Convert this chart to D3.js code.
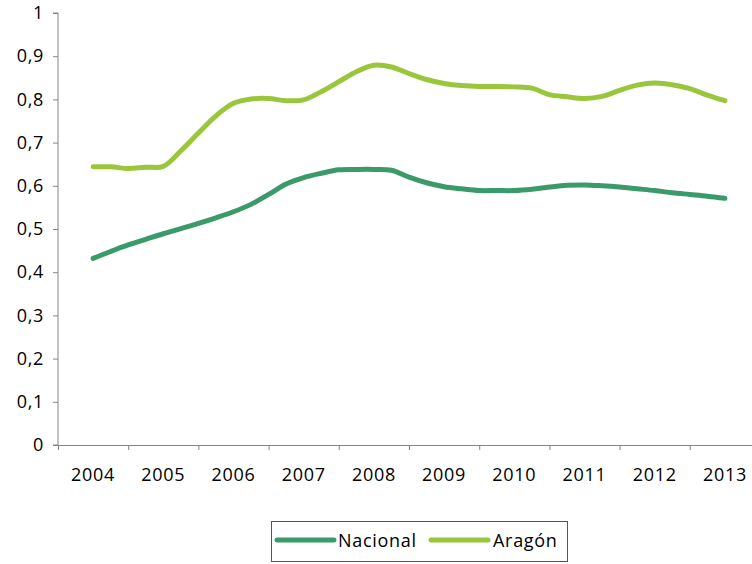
<!DOCTYPE html>
<html>
<head>
<meta charset="utf-8">
<script src="https://cdn.jsdelivr.net/npm/d3@7"></script>
<style>
  html, body { margin: 0; padding: 0; background: #fff; }
  svg { display: block; }
  text { font-family: "Open Sans", sans-serif; fill: #000; }
</style>
</head>
<body>
<svg id="chart" width="752" height="564"></svg>
<script>
// ---- data (quarterly, 2004 T1 .. 2013 T1) ----
const years = ["2004","2005","2006","2007","2008","2009","2010","2011","2012","2013"];
const yTicks = [0,0.1,0.2,0.3,0.4,0.5,0.6,0.7,0.8,0.9,1];
const seriesNames = ["Nacional","Aragón"];
const nacional = [
  0.432,0.448,0.463,0.476, 0.489,0.501,0.513,0.526,
  0.540,0.557,0.580,0.604, 0.619,0.629,0.637,0.638,
  0.638,0.636,0.620,0.607, 0.598,0.593,0.589,0.589,
  0.589,0.592,0.597,0.601, 0.602,0.600,0.597,0.593,
  0.589,0.584,0.580,0.576, 0.571
];
const aragon = [
  0.644,0.644,0.640,0.643, 0.645,0.681,0.722,0.762,
  0.791,0.801,0.802,0.797, 0.799,0.818,0.841,0.864,
  0.879,0.875,0.860,0.846, 0.837,0.832,0.830,0.830,
  0.829,0.826,0.811,0.806, 0.802,0.807,0.821,0.833,
  0.838,0.834,0.825,0.810, 0.797
];
const colors = ["#3b9a69","#9ac63b"];

(function () {
// ---- layout ----
const svg = d3.select("#chart");
const mLeft = 58, mRight = 760, mTop = 13, mBottom = 445;

const xBand = d3.scaleBand().domain(years).range([mLeft, mRight]).paddingInner(0).paddingOuter(0);
const xTime = d3.scaleLinear()
  .domain([+years[0] - 0.5, +years[years.length-1] + 0.5])
  .range([mLeft, mRight]);
const y = d3.scaleLinear().domain([0, 1]).range([mBottom, mTop]);

const fmt = d => String(+d.toFixed(1)).replace(".", ",");

// y axis
const yAxis = svg.append("g").attr("transform", `translate(${mLeft},0)`)
  .call(d3.axisLeft(y).tickValues(yTicks).tickFormat(fmt).tickSize(5).tickPadding(9));
yAxis.attr("font-family", null).attr("font-size", null);
yAxis.select(".domain").attr("stroke", "#868686").attr("d", `M-5,${mBottom}H0V${mTop}H-5`);
yAxis.selectAll(".tick line").attr("stroke", "#868686");
yAxis.selectAll(".tick text").style("font-size", "18px").style("letter-spacing", "0.7px");

// x axis: tick marks at band boundaries
const boundaries = years.map(yv => +yv - 0.5).concat([+years[years.length-1] + 0.5]);
const xTickAxis = svg.append("g").attr("transform", `translate(0,${mBottom})`)
  .call(d3.axisBottom(xTime).tickValues(boundaries).tickFormat("").tickSize(5).tickSizeOuter(0));
xTickAxis.select(".domain").attr("stroke", "#868686");
xTickAxis.selectAll(".tick line").attr("stroke", "#868686");

// x labels at band centres
const xLab = svg.append("g").attr("transform", `translate(0,${mBottom})`)
  .call(d3.axisBottom(xBand).tickSize(0).tickPadding(23));
xLab.attr("font-family", null).attr("font-size", null);
xLab.select(".domain").remove();
xLab.selectAll(".tick text").style("font-size", "18px").style("letter-spacing", "0.7px");

// lines
const line = d3.line()
  .x((d, i) => xTime(+years[0] + i / 4))
  .y(d => y(d))
  .curve(d3.curveCatmullRom.alpha(0.5));

[nacional, aragon].forEach((s, k) => {
  svg.append("path").datum(s)
    .attr("d", line)
    .attr("fill", "none")
    .attr("stroke", colors[k])
    .attr("stroke-width", 5)
    .attr("stroke-linecap", "round")
    .attr("stroke-linejoin", "round");
});

// legend
const lg = svg.append("g");
lg.append("rect").attr("x", 271.5).attr("y", 521.5).attr("width", 296).attr("height", 40)
  .attr("fill", "#fff").attr("stroke", "#555").attr("stroke-width", 1);
const legendPos = [{lx: 277, tx: 338}, {lx: 431, tx: 493}];
seriesNames.forEach((n, k) => {
  lg.append("line").attr("x1", legendPos[k].lx).attr("x2", legendPos[k].lx + 57)
    .attr("y1", 540).attr("y2", 540)
    .attr("stroke", colors[k]).attr("stroke-width", 5).attr("stroke-linecap", "round");
  lg.append("text").attr("x", legendPos[k].tx).attr("y", 547)
    .style("font-size", "18px").style("letter-spacing", "0.7px").text(n);
});
})();
</script>
</body>
</html>
